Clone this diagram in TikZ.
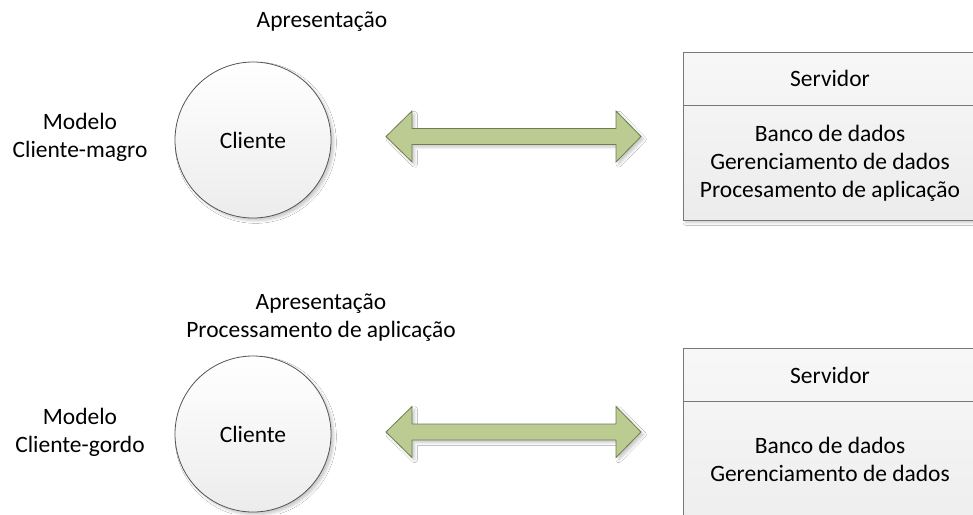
\documentclass[tikz,border=0pt]{standalone}
\usepackage{fontspec}
\setmainfont{Carlito}
\usetikzlibrary{shadows.blur}
\definecolor{arrowfill}{RGB}{187,203,146}
\definecolor{arrowline}{RGB}{110,126,80}
\definecolor{circleline}{RGB}{85,85,85}
\definecolor{boxline}{RGB}{120,120,120}
\definecolor{boxlow}{RGB}{236,236,236}
\tikzset{
  softshadow/.style={blur shadow={shadow xshift=2pt, shadow yshift=-2pt,
      shadow blur steps=6, shadow blur radius=2pt, shadow opacity=22}},
  client/.style={circle, draw=circleline, line width=0.6pt, minimum size=117pt,
      inner sep=0pt, top color=white, bottom color=boxlow, softshadow},
  serverbox/.style={draw=boxline, line width=0.6pt, top color=white!97!black,
      bottom color=boxlow, softshadow},
  label/.style={align=center, inner sep=0pt},
  arrowshape/.style={fill=arrowfill, draw=arrowline, line width=0.6pt,
      line join=miter, softshadow},
  dblarrow/.pic={
    \path[arrowshape] (0,0) -- (26,-25.5) -- (26,-8) -- (230,-8) -- (230,-25.5)
      -- (255,0) -- (230,25.5) -- (230,8) -- (26,8) -- (26,25.5) -- cycle;
  }
}
\begin{document}
\begin{tikzpicture}[x=0.75pt, y=-0.75pt, font=\fontsize{17.6}{21}\selectfont]
\useasboundingbox (0,0) rectangle (973,514);
\clip (0,0) rectangle (973,514);
\fill[white] (0,0) rectangle (973,514);

% ---- thin client ----
\node[label] (m1) at (80,137) {Modelo\\Cliente-magro};
\node[label] (p1) at (322,22) {Apresentação};
\node[client] (c1) at (253,140) {Cliente};
\pic (arr1) at (386,136.5) {dblarrow};
\node[serverbox, minimum width=220.5pt, minimum height=126pt, inner sep=0pt]
  (s1) at (830,136) {};
\draw[boxline, line width=0.6pt] (s1.west |- 0,105) coordinate (s1l) -- (s1.east |- 0,105) coordinate (s1r);
\node[label] (s1h) at (830,78) {Servidor};
\node[label] (s1b) at (830,163) {Banco de dados\\Gerenciamento de dados\\Procesamento de aplicação};

% ---- fat client ----
\node[label] (m2) at (80,432) {Modelo\\Cliente-gordo};
\node[label] (p2) at (321,318) {Apresentação\\Processamento de aplicação};
\node[client] (c2) at (253,434) {Cliente};
\pic (arr2) at (386,432) {dblarrow};
\node[serverbox, minimum width=220.5pt, minimum height=159pt, inner sep=0pt]
  (s2) at (830,454) {};
\draw[boxline, line width=0.6pt] (s2.west |- 0,401) coordinate (s2l) -- (s2.east |- 0,401) coordinate (s2r);
\node[label] (s2h) at (830,375) {Servidor};
\node[label] (s2b) at (830,459) {Banco de dados\\Gerenciamento de dados};
\end{tikzpicture}
\end{document}
